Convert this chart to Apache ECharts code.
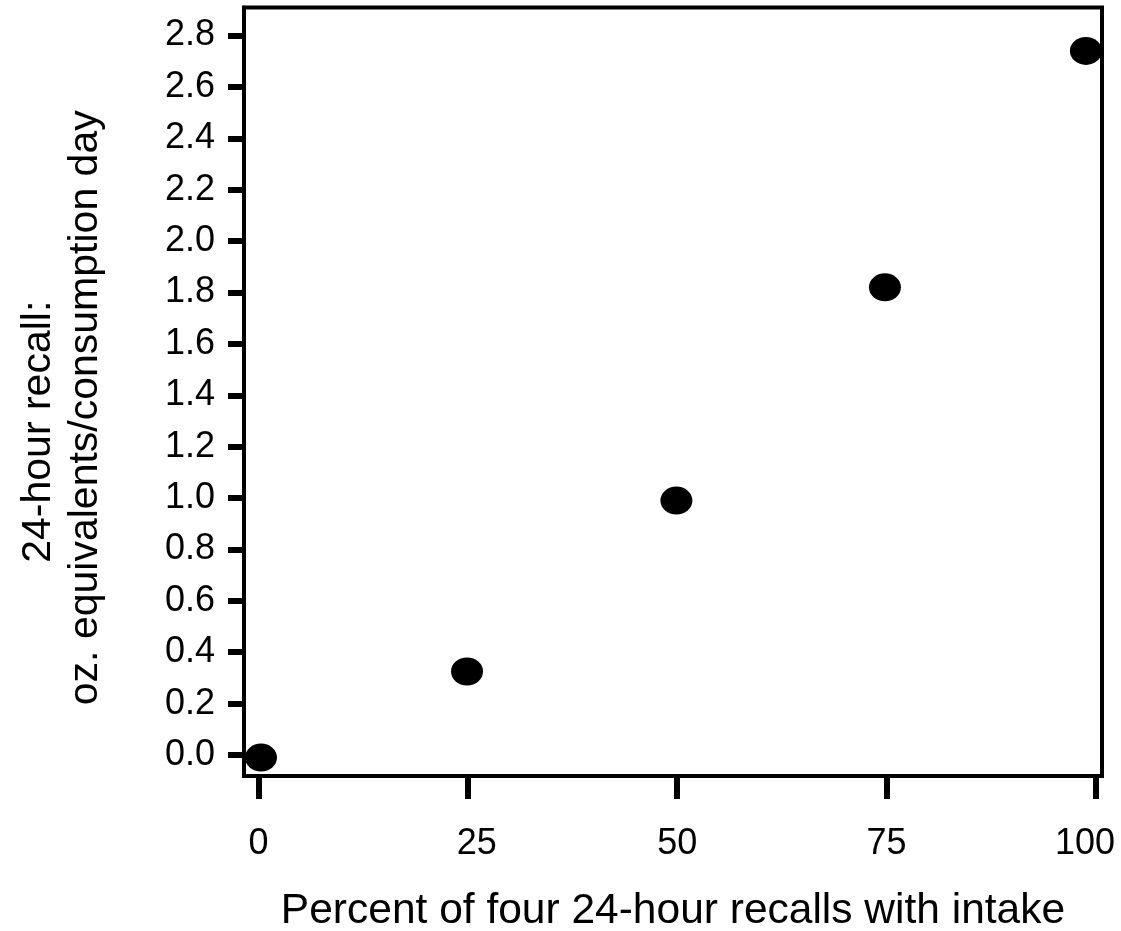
<!DOCTYPE html>
<html>
<head>
<meta charset="utf-8">
<script src="https://cdn.jsdelivr.net/npm/echarts@6/dist/echarts.min.js"></script>
<style>
  html, body { margin: 0; padding: 0; background: #fff; }
  #chart { width: 1121px; height: 931px; }
</style>
</head>
<body>
<div id="chart"></div>
<script>
// values
const percentWithIntake = [0.3, 24.9, 49.9, 74.8, 98.8];
const ozPerDay = [-0.01, 0.325, 0.99, 1.82, 2.74];

const xTicks = [0, 25, 50, 75, 100];
const yTicks = [0, 0.2, 0.4, 0.6, 0.8, 1.0, 1.2, 1.4, 1.6, 1.8, 2.0, 2.2, 2.4, 2.6, 2.8];

const xTitle = 'Percent of four 24-hour recalls with intake';
const yTitleTop = '24-hour recall:';
const yTitleBottom = 'oz. equivalents/consumption day';

const font = 'Liberation Sans';

const chart = echarts.init(document.getElementById('chart'));

chart.setOption({
  animation: false,
  grid: {
    left: 244,
    top: 7.5,
    width: 858,
    height: 768.5,
    outerBoundsMode: 'none',
    containLabel: false,
    show: true,
    borderWidth: 4,
    borderColor: '#000',
    backgroundColor: 'transparent',
    z: 10
  },
  xAxis: {
    type: 'value',
    min: -1.73,
    max: 100.72,
    z: 10,
    axisLine: { onZero: false, lineStyle: { color: '#000', width: 4 } },
    axisTick: { customValues: xTicks, length: 23, lineStyle: { color: '#000', width: 6 } },
    axisLabel: {
      customValues: xTicks,
      margin: 50,
      color: '#000',
      fontFamily: font,
      fontSize: 36,
      // the source labels sit a little off their ticks
      formatter: (v) => (v === 25 ? '{r|25}' : v === 100 ? '{l|100}' : String(v)),
      rich: {
        r: { fontFamily: font, fontSize: 36, color: '#000', padding: [0, 0, 0, 18] },
        l: { fontFamily: font, fontSize: 36, color: '#000', padding: [0, 22, 0, 0] }
      }
    },
    splitLine: { show: false },
    name: xTitle,
    nameLocation: 'middle',
    nameGap: 114,
    nameTextStyle: { color: '#000', fontFamily: font, fontSize: 42.5 }
  },
  yAxis: {
    type: 'value',
    min: -0.0817,
    max: 2.909,
    z: 10,
    axisLine: { onZero: false, lineStyle: { color: '#000', width: 4 } },
    axisTick: { customValues: yTicks, length: 16, lineStyle: { color: '#000', width: 6 } },
    axisLabel: {
      customValues: yTicks,
      margin: 29,
      color: '#000',
      fontFamily: font,
      fontSize: 36,
      formatter: (v) => v.toFixed(1)
    },
    splitLine: { show: false },
    name: '{a|' + yTitleTop + '}\n{b|' + yTitleBottom + '}',
    nameLocation: 'middle',
    nameRotate: 90,
    nameGap: 135,
    nameTextStyle: {
      color: '#000',
      fontFamily: font,
      fontSize: 41,
      lineHeight: 47,
      padding: [0, 32, 0, 0],
      rich: {
        a: { fontFamily: font, fontSize: 41, lineHeight: 47, color: '#000', padding: [0, 48, 0, 0] },
        b: { fontFamily: font, fontSize: 41, lineHeight: 47, color: '#000' }
      }
    }
  },
  series: [
    {
      type: 'scatter',
      data: percentWithIntake.map((x, i) => [x, ozPerDay[i]]),
      symbol: 'circle',
      symbolSize: [32, 28],
      itemStyle: { color: '#000', opacity: 1 },
      clip: false
    }
  ]
});
</script>
</body>
</html>
